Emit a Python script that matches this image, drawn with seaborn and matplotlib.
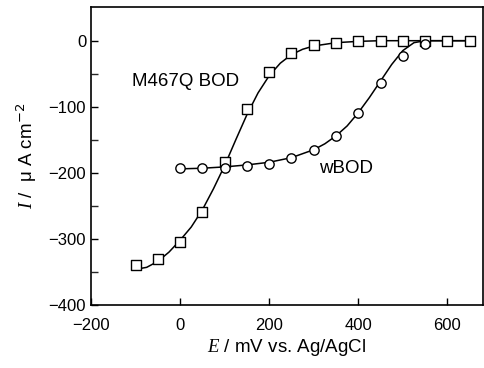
import numpy as np
import pandas as pd
import matplotlib
matplotlib.use("Agg")
import matplotlib.pyplot as plt
from matplotlib.ticker import FixedLocator
import seaborn as sns

# measured points (mV, uA cm-2)
e_mut = [-100, -50, 0, 50, 100, 150, 200, 250, 300, 350, 400, 450, 500, 550, 600, 650]
i_mut = [-339, -330, -305, -259, -184, -103, -47, -18, -7, -3, 0, 0, 0, 0, 0, 0]
e_wt = [0, 50, 100, 150, 200, 250, 300, 350, 400, 450, 500, 550]
i_wt = [-193, -193, -192, -189, -186, -178, -166, -144, -110, -64, -23, -5]

# fitted curves
e_mut_fit = [-100, -75, -50, -25, 0, 25, 50, 75, 100, 125, 150, 175, 200, 225, 250, 275, 300, 350, 400, 450, 500, 550, 600, 650]
i_mut_fit = [-346, -343, -334, -320, -302, -282, -256, -224, -189, -150, -112, -79, -53, -34, -21, -13, -8, -3, -1, 0, 0, 0, 0, 0]
e_wt_fit = [0, 50, 100, 150, 200, 250, 300, 325, 350, 375, 400, 425, 450, 475, 500, 525, 550, 600, 650]
i_wt_fit = [-194, -193, -191, -188, -184, -177, -165, -156, -144, -129, -109, -86, -61, -36, -15, -3, 0, 0, 0]

sns.set_theme(style="ticks")
plt.rcParams["font.family"] = ["Liberation Sans", "DejaVu Sans"]
plt.rcParams["mathtext.fontset"] = "custom"
plt.rcParams["mathtext.it"] = "Liberation Serif:italic"
plt.rcParams["text.color"] = "black"
plt.rcParams["axes.labelcolor"] = "black"

fig = plt.figure(figsize=(4.84, 3.68), dpi=100)
ax = fig.add_axes([91 / 484, 1 - 305 / 368, 392 / 484, 298 / 368])

sns.lineplot(x=e_mut_fit, y=i_mut_fit, ax=ax, color="black", linewidth=1.1, sort=False)
sns.lineplot(x=e_wt_fit, y=i_wt_fit, ax=ax, color="black", linewidth=1.1, sort=False)
ax.scatter(e_mut, i_mut, marker="s", s=50, facecolor="white", edgecolor="black", linewidth=1.0, zorder=3)
ax.scatter(e_wt, i_wt, marker="o", s=45, facecolor="white", edgecolor="black", linewidth=1.0, zorder=3)

ax.set_xlim(-200, 680)
ax.set_ylim(-400, 51)
ax.set_xticks([-200, 0, 200, 400, 600])
ax.set_yticks([-400, -300, -200, -100, 0])
ax.yaxis.set_minor_locator(FixedLocator([-350, -250, -150, -50]))
ax.tick_params(axis="both", which="major", direction="in", length=5, width=1, labelsize=12, colors="black")
ax.tick_params(axis="x", which="major", pad=9)
ax.tick_params(axis="y", which="minor", direction="in", length=5, width=1)
for sp in ax.spines.values():
    sp.set_color("black")
    sp.set_linewidth(1.2)

ax.text(-108, -62, "M467Q BOD", fontsize=13.5, va="center", ha="left")
ax.text(312, -194, "wBOD", fontsize=13.5, va="center", ha="left")

ax.set_xlabel(r"$\it{E}$ / mV vs. Ag/AgCl", fontsize=13.5, labelpad=3)
ax.set_ylabel(r"$\it{I}$ /  μ A cm$^{-2}$", fontsize=13.5, labelpad=7)

fig.savefig("out.png", dpi=100)
